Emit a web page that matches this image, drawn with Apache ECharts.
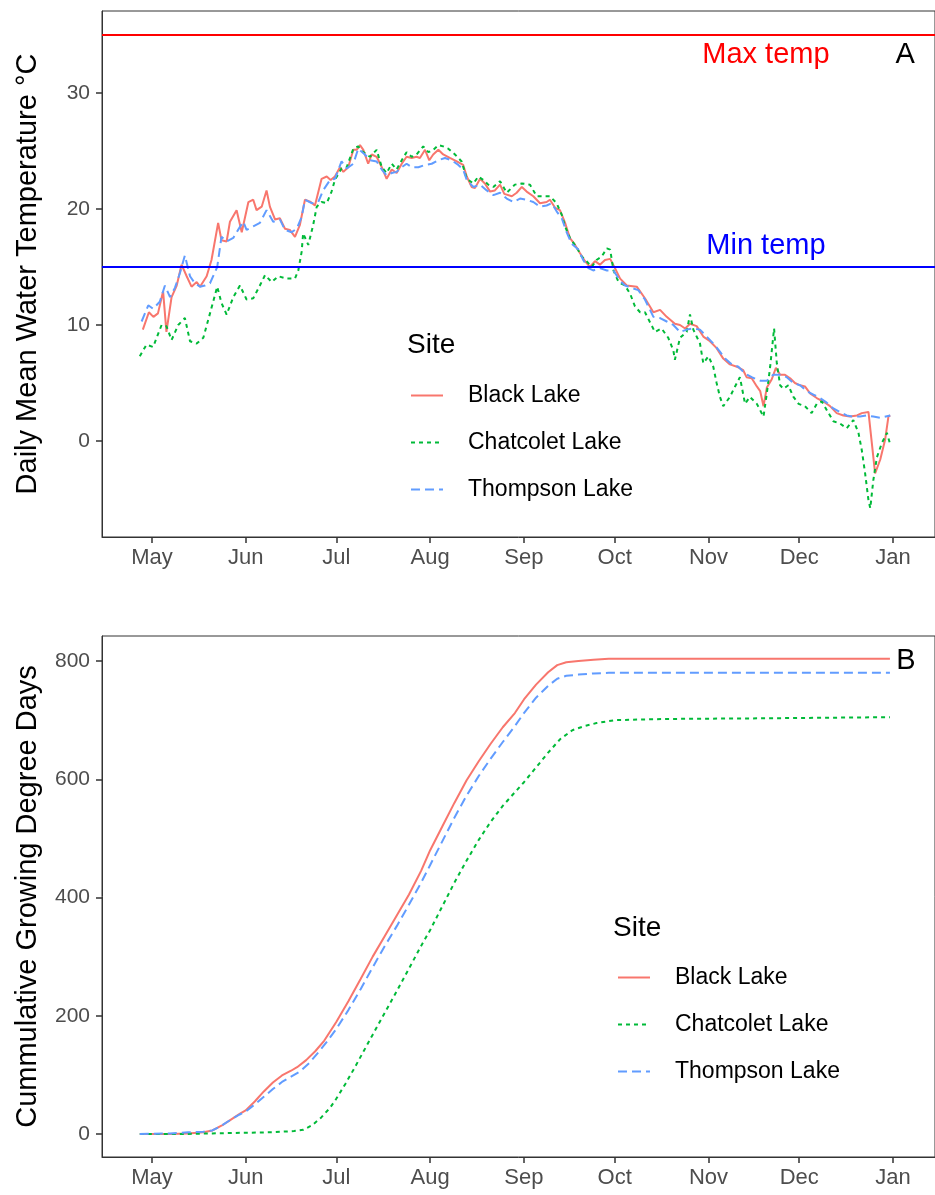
<!DOCTYPE html>
<html><head><meta charset="utf-8">
<script src="https://cdn.jsdelivr.net/npm/echarts@6/dist/echarts.min.js"></script>
<style>html,body{margin:0;padding:0;background:#fff}#c{width:935px;height:1195px}</style>
</head><body><div id="c"></div>
<script>
// x values: days since May 1
const monthTicks = [0, 31, 61, 92, 123, 153, 184, 214, 245];
const monthLabels = ['May','Jun','Jul','Aug','Sep','Oct','Nov','Dec','Jan'];
const tempTicks = [0, 10, 20, 30];
const gddTicks = [0, 200, 400, 600, 800];
const siteNames = ['Black Lake', 'Chatcolet Lake', 'Thompson Lake'];
const maxTemp = 35, minTemp = 15;

const blackTemp = [[-3,9.6],[-1,11.1],[0.5,10.7],[2,11.0],[3.7,12.9],[4.8,9.4],[6.5,12.4],[8.2,13.4],[9.8,15.2],[11.5,14.2],[13.1,13.3],[14.8,13.7],[15.9,13.3],[18.1,14.2],[19.7,15.6],[21.9,18.8],[23,17.3],[24.7,17.2],[25.8,18.9],[28,19.9],[29.7,18.0],[31.9,20.6],[33.5,20.8],[34.6,19.9],[36.3,20.2],[37.9,21.6],[39,20.2],[40.7,19.1],[42.3,19.2],[44,18.3],[45.6,18.2],[47.3,17.6],[48.9,18.6],[50.6,20.8],[52.5,20.6],[53.9,20.3],[56.1,22.6],[57.8,22.8],[59.1,22.5],[60.5,22.8],[62.2,23.6],[63.3,23.2],[64.9,23.6],[66.6,25.1],[67.7,25.1],[68.8,25.5],[69.9,25.1],[71.5,23.9],[72.7,24.7],[74.3,24.5],[76,23.6],[77.6,22.6],[79.3,23.4],[80.9,23.1],[82.6,23.9],[84.2,24.5],[85.9,24.4],[87.5,24.5],[88.6,24.4],[90.3,25.1],[91.7,24.2],[93,24.7],[94.7,25.1],[96.3,24.7],[98.5,24.4],[100.8,24.1],[102.9,23.8],[104.1,22.8],[105.7,21.9],[106.8,21.8],[108.5,22.6],[110.1,22.2],[111.8,21.5],[113.4,21.6],[115.1,22.1],[116.5,21.3],[119,21.1],[120.6,21.4],[122.3,21.9],[123.9,21.5],[126.1,21.1],[128.3,20.5],[130.5,20.6],[131.6,20.8],[133.3,20.1],[134.9,19.9],[136.6,18.8],[138.2,17.5],[139.9,16.9],[141.5,16.2],[143.2,15.5],[144.8,15.0],[146.5,15.5],[148.1,15.2],[149.8,15.6],[151.5,15.7],[153.1,14.9],[154.8,14.0],[157,13.4],[160.3,13.3],[163,12.3],[165.8,11.1],[168,11.3],[170.2,10.7],[172.9,10.1],[174.6,10.0],[176.3,9.7],[177.9,10.1],[180.1,9.9],[182.3,9.0],[184.5,8.6],[186.7,8.0],[188.9,7.1],[191.1,6.6],[193.4,6.4],[195.5,6.1],[196.6,5.5],[198.3,5.4],[200,4.7],[201.1,4.3],[202.2,3.0],[203.3,4.6],[204.9,5.3],[206.3,6.3],[207.7,5.7],[209.3,5.7],[211,5.4],[212.6,5.0],[214.3,4.8],[215.9,4.7],[217.6,4.1],[219.8,3.7],[222,3.4],[224.2,3.0],[226.4,2.4],[228.6,2.2],[230.8,2.1],[233.1,2.2],[234.7,2.4],[236.9,2.5],[239.1,-2.8],[240.8,-1.6],[242.4,0.1],[243.5,2.1],[244.1,2.2]];

const chatcoletTemp = [[-4,7.3],[-1.8,8.3],[0.4,8.1],[3.2,10.0],[4.8,9.9],[6.5,8.7],[8.7,10.0],[10.9,10.6],[12.6,8.6],[14.8,8.4],[17,8.9],[19.2,11.0],[21.6,13.3],[23,11.9],[24.7,10.9],[26.9,12.4],[29.1,13.4],[31.3,12.2],[33.5,12.3],[35.7,13.4],[37.4,14.3],[39.6,13.7],[41.8,14.2],[44.5,14.0],[47.3,14.0],[48.4,14.7],[49.5,16.3],[50,17.9],[51.7,16.9],[53.3,18.6],[54.5,20.2],[56.1,20.6],[57.8,20.5],[59.4,21.5],[60.5,22.5],[62.7,23.5],[64.4,23.6],[66.6,25.2],[68.2,25.4],[69.9,24.9],[72.1,24.5],[74.3,25.1],[76,23.6],[77.6,23.1],[79.3,23.9],[80.9,23.4],[82.6,24.2],[84.2,24.9],[85.9,24.5],[87.5,24.7],[89.7,25.4],[91.4,24.9],[93,25.1],[94.7,25.5],[96.3,25.4],[98,25.2],[100.2,24.7],[102.4,24.1],[104.1,22.6],[106.3,22.2],[107.9,22.8],[109.6,22.5],[111.2,22.1],[112.9,21.9],[115.1,22.4],[117.3,21.4],[120,22.1],[122.3,22.2],[125,22.1],[127.2,21.1],[129.4,21.1],[131.6,21.1],[133.8,20.5],[135.5,19.5],[136.6,18.5],[138.2,17.5],[140.4,16.7],[142.1,15.9],[143.7,15.5],[145.4,15.0],[147,15.6],[148.7,15.9],[150.4,16.6],[151.5,16.5],[152.6,14.7],[154.3,13.7],[156.4,13.4],[158.1,12.7],[159.7,11.6],[161.4,11.1],[163,11.1],[166.3,9.4],[168.5,9.7],[170.7,8.9],[172.4,7.8],[172.9,7.0],[174.6,8.9],[176.8,9.4],[177.9,10.9],[179,9.6],[181.2,8.4],[182.3,6.7],[184,7.3],[185.6,6.4],[186.7,5.0],[187.8,3.8],[188.9,3.0],[191.1,3.8],[192.8,4.7],[194.4,5.5],[196.1,3.2],[197.7,3.8],[200,3.2],[202.2,2.1],[203.3,4.1],[204.4,6.4],[205.7,9.7],[206.6,6.7],[207.7,4.8],[208.8,4.5],[210.4,4.8],[212.1,3.8],[213.8,3.2],[215.9,3.0],[218.1,2.4],[219.8,3.2],[221.5,3.4],[223.7,2.4],[225.3,1.7],[227.5,1.5],[229.7,1.1],[231.9,1.8],[233.6,0.7],[234.7,-0.8],[235.8,-2.8],[236.9,-5.1],[237.5,-5.8],[238.5,-3.4],[239.7,-1.4],[241.3,-0.2],[243,0.7],[244.1,-0.3]];

const thompsonTemp = [[-3.4,10.3],[-1.2,11.7],[0.4,11.4],[2.6,12.0],[4.3,13.4],[6,12.4],[7.6,13.2],[9.3,14.5],[10.9,16.0],[12.6,14.2],[14.2,13.6],[15.9,13.3],[17.5,13.4],[19.2,13.6],[21.6,15.0],[23,17.6],[24.7,17.2],[26.9,17.5],[28.5,18.2],[30.2,18.9],[31.3,18.2],[33.5,18.5],[35.7,18.8],[37.9,19.9],[40.1,18.9],[42.3,19.1],[44,18.2],[46.2,18.0],[47.9,18.3],[49.5,19.3],[50.6,20.8],[52.8,20.5],[55,20.6],[56.6,21.6],[58.9,22.5],[60.5,22.6],[62.7,24.1],[64.4,23.5],[66.6,23.9],[68.2,25.2],[70.4,24.7],[72.1,24.2],[74.3,24.1],[76,23.4],[77.6,22.9],[79.3,23.1],[80.9,23.2],[82.6,23.6],[84.2,23.9],[85.9,23.6],[88.1,23.6],[90.3,23.8],[92.5,23.9],[94.7,24.2],[96.9,24.4],[99.1,24.2],[101.3,23.8],[102.9,23.4],[104.1,22.5],[106.3,21.9],[108.5,22.1],[110.7,21.6],[112.9,21.2],[115.1,21.4],[117.3,20.9],[119.5,20.6],[121.7,20.9],[123.9,20.8],[126.1,20.6],[128.3,20.2],[130.5,20.3],[132.2,20.5],[133.8,19.8],[135.5,19.2],[137.1,18.0],[138.8,17.0],[141,16.5],[142.6,15.6],[144.3,14.9],[145.9,14.7],[148.1,14.9],[150.4,14.7],[152.6,14.7],[154.8,13.8],[156.4,13.4],[158.6,13.2],[160.8,13.0],[163,12.2],[165.8,10.7],[168,10.6],[170.2,10.3],[172.4,10.0],[174.6,9.4],[176.8,9.6],[179,9.7],[181.2,9.6],[183.4,9.0],[185.6,8.4],[187.8,7.7],[189.5,7.1],[191.7,6.6],[193.9,6.4],[196.1,5.8],[198.3,5.5],[201.1,5.2],[203.3,5.2],[205.4,5.7],[207.7,5.7],[209.9,5.5],[212.1,5.0],[214.3,4.8],[216.5,4.3],[218.7,4.0],[220.9,3.7],[223.1,3.3],[225.3,2.8],[227.5,2.5],[229.7,2.2],[231.9,2.1],[234.1,2.1],[236.3,2.2],[238.5,2.1],[240.7,2.0],[244.1,2.2]];

const blackGDD = [[-4,0],[6,0],[12,1],[17,3],[20,6],[23,14],[26,24],[29,34],[31,40],[34,55],[37,72],[40,87],[43,99],[46,107],[48,113],[51,125],[54,140],[57,158],[61,190],[65,225],[69,262],[73,300],[77,335],[81,370],[85,405],[89,445],[92,480],[96,520],[100,560],[104,598],[108,630],[112,660],[116,688],[120,712],[123,735],[127,760],[131,781],[134,793],[137,798],[141,800],[146,802],[151,804],[244,804]];
const chatcoletGDD = [[-4,0],[10,0],[20,1],[30,2],[40,3],[47,5],[50,7],[53,15],[56,28],[59,45],[61,60],[64,85],[67,112],[70,140],[73,168],[77,205],[81,242],[85,280],[89,318],[92,345],[96,385],[100,425],[104,462],[108,497],[112,528],[116,555],[120,578],[123,595],[127,620],[131,645],[135,668],[139,683],[143,690],[147,695],[153,700],[170,702],[200,703],[244,705]];
const thompsonGDD = [[-4,0],[6,1],[12,3],[17,4],[20,6],[23,14],[26,24],[29,33],[31,38],[34,50],[37,63],[40,76],[43,88],[46,97],[49,106],[52,120],[55,138],[58,157],[61,178],[65,210],[69,245],[73,282],[77,318],[81,352],[85,388],[89,425],[92,455],[96,495],[100,535],[104,572],[108,605],[112,635],[116,663],[120,690],[123,712],[127,738],[131,758],[134,770],[137,775],[141,777],[146,779],[151,780],[244,780]];

const colors = {'Black Lake':'#F8766D','Chatcolet Lake':'#00BA38','Thompson Lake':'#619CFF'};
const dashes = {'Black Lake':'solid','Chatcolet Lake':[4,4],'Thompson Lake':[9,5]};
const FONT = '"Liberation Sans", Arial, sans-serif';

const chart = echarts.init(document.getElementById('c'), null, {renderer:'canvas'});

function xAxis(gi){
  return {
    type:'value', gridIndex:gi, min:-16.5, max:258.9,
    splitLine:{show:false},
    axisLine:{show:true, onZero:false, lineStyle:{color:'#333', width:1}},
    axisTick:{show:true, length:6, customValues:monthTicks, lineStyle:{color:'#333', width:1.5}},
    axisLabel:{customValues:monthTicks, margin:10, fontSize:22, color:'#4D4D4D', fontFamily:FONT,
      formatter:v => monthLabels[monthTicks.indexOf(v)]}
  };
}
function yAxis(gi, min, max, ticks, name){
  return {
    type:'value', gridIndex:gi, min:min, max:max,
    splitLine:{show:false},
    axisLine:{show:true, onZero:false, lineStyle:{color:'#333', width:1}},
    axisTick:{show:true, length:6, customValues:ticks, lineStyle:{color:'#333', width:1.5}},
    axisLabel:{customValues:ticks, margin:12, fontSize:21, color:'#4D4D4D', fontFamily:FONT},
    name:name, nameLocation:'middle', nameGap:60,
    nameTextStyle:{fontSize:29, color:'#000', fontFamily:FONT}
  };
}
function lineSeries(name, data, xi){
  return {
    type:'line', name:name, xAxisIndex:xi, yAxisIndex:xi, data:data,
    showSymbol:false, symbol:'none', animation:false,
    lineStyle:{color:colors[name], width:2, type:dashes[name]},
    itemStyle:{color:colors[name]}, z:3
  };
}
function legend(left, top){
  return {
    data:siteNames, orient:'vertical', left:left, top:top, padding:0,
    itemWidth:32, itemHeight:14, itemGap:24,
    selectedMode:false,
    itemStyle:{opacity:0},
    textStyle:{fontSize:23, color:'#000', fontFamily:FONT, padding:[0,0,0,20]}
  };
}
const txt = (color) => ({fontSize:29, color:color, fontFamily:FONT});

chart.setOption({
  animation:false,
  backgroundColor:'#fff',
  title:[
    {text:'Site', left:407, top:331, padding:0, textStyle:{fontSize:28, fontWeight:'normal', color:'#000', fontFamily:FONT}},
    {text:'Site', left:613, top:914, padding:0, textStyle:{fontSize:28, fontWeight:'normal', color:'#000', fontFamily:FONT}}
  ],
  grid:[
    {left:102, top:11, width:836, height:526, show:true, borderColor:'#333', borderWidth:1, backgroundColor:'#fff'},
    {left:102, top:636, width:836, height:521, show:true, borderColor:'#333', borderWidth:1, backgroundColor:'#fff'}
  ],
  xAxis:[xAxis(0), xAxis(1)],
  yAxis:[
    yAxis(0, -8.28, 37.07, tempTicks, 'Daily Mean Water Temperature °C'),
    yAxis(1, -38.9, 842.3, gddTicks, 'Cummulative Growing Degree Days')
  ],
  legend:[legend(410, 384), legend(617, 966)],
  series:[
    lineSeries('Black Lake', blackTemp, 0),
    lineSeries('Chatcolet Lake', chatcoletTemp, 0),
    lineSeries('Thompson Lake', thompsonTemp, 0),
    {
      type:'line', name:'refs', xAxisIndex:0, yAxisIndex:0, data:[], z:4,
      markLine:{silent:true, symbol:['none','none'], animation:false, label:{show:false},
        data:[
          {yAxis:maxTemp, lineStyle:{color:'#FF0000', width:2, type:'solid'}},
          {yAxis:minTemp, lineStyle:{color:'#0000FF', width:2, type:'solid'}}
        ]},
      markPoint:{silent:true, symbol:'circle', symbolSize:0, animation:false,
        data:[
          {name:'Max temp', coord:[203, 33.3], label:{show:true, position:'inside', formatter:'{b}', ...txt('#FF0000')}},
          {name:'Min temp', coord:[203, 16.8], label:{show:true, position:'inside', formatter:'{b}', ...txt('#0000FF')}},
          {name:'A', coord:[249, 33.3], label:{show:true, position:'inside', formatter:'{b}', ...txt('#000')}}
        ]}
    },
    lineSeries('Black Lake', blackGDD, 1),
    lineSeries('Chatcolet Lake', chatcoletGDD, 1),
    lineSeries('Thompson Lake', thompsonGDD, 1),
    {
      type:'line', name:'refsB', xAxisIndex:1, yAxisIndex:1, data:[],
      markPoint:{silent:true, symbol:'circle', symbolSize:0, animation:false,
        data:[
          {name:'B', coord:[249.3, 800], label:{show:true, position:'inside', formatter:'{b}', ...txt('#000')}}
        ]}
    }
  ]
});
</script></body></html>
